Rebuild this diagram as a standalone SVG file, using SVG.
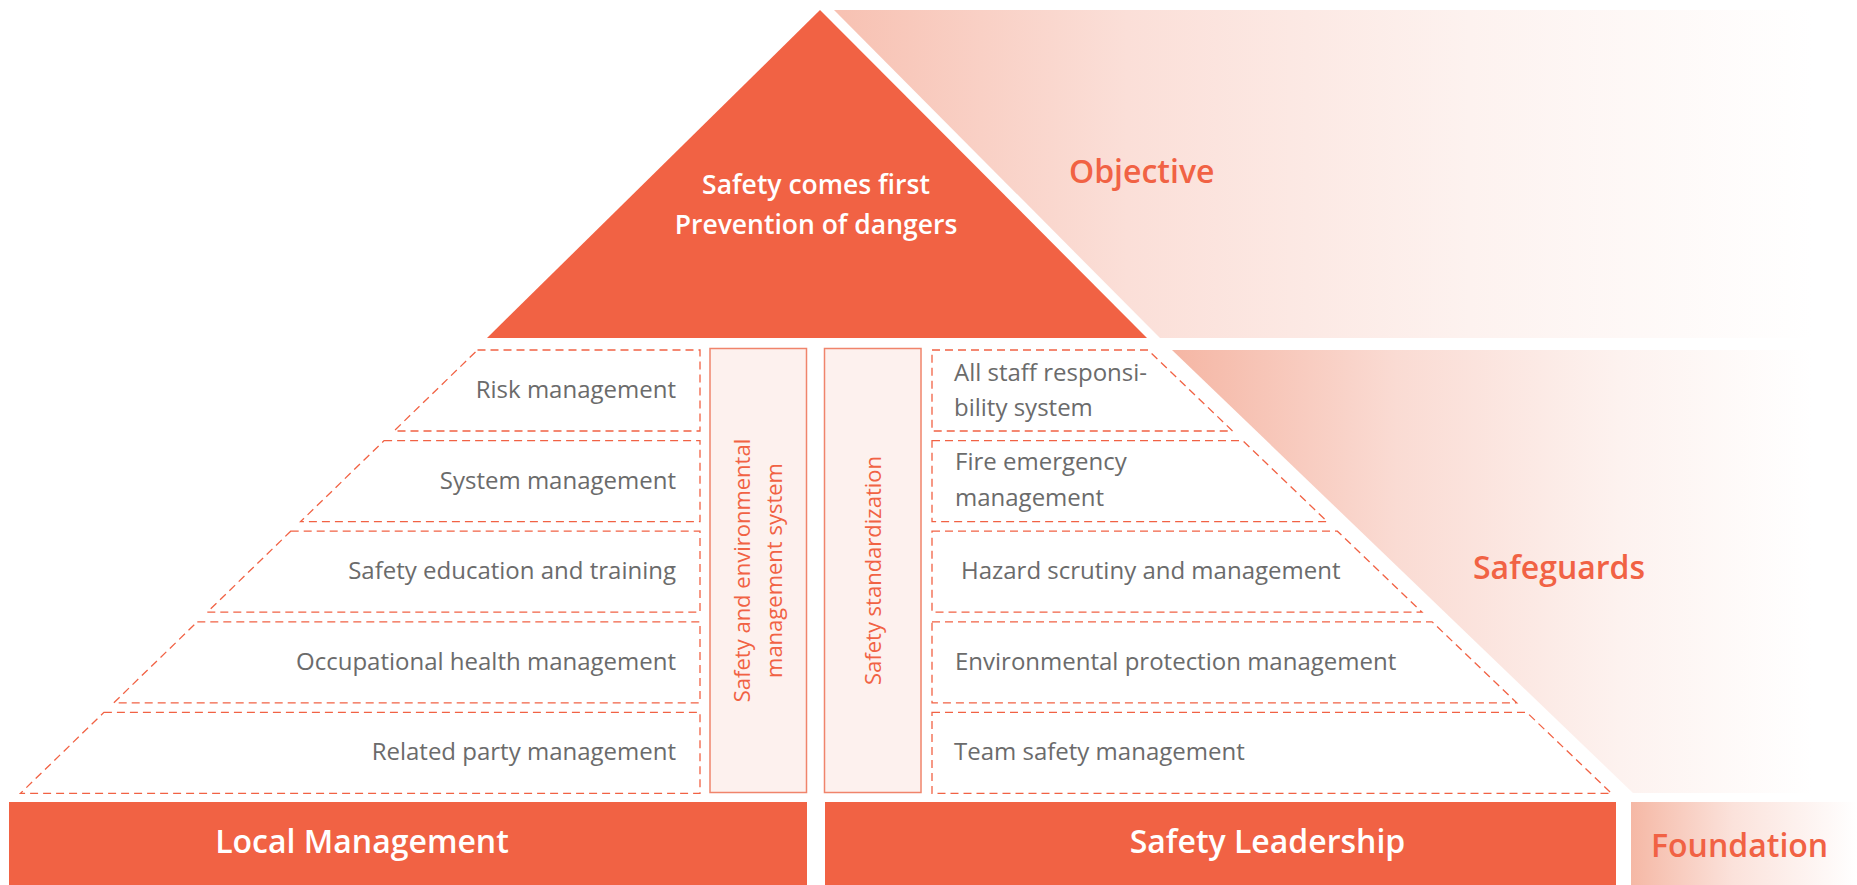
<svg xmlns="http://www.w3.org/2000/svg" width="1857" height="885" viewBox="0 0 1857 885">
<defs>
<linearGradient id="gObj" gradientUnits="userSpaceOnUse" x1="834" y1="0" x2="1812" y2="0">
<stop offset="0" stop-color="#f7c1b2"/>
<stop offset="0.3" stop-color="#fbdfd8"/>
<stop offset="0.65" stop-color="#fdf2ef"/>
<stop offset="1" stop-color="#ffffff"/>
</linearGradient>
<linearGradient id="gSafe" gradientUnits="userSpaceOnUse" x1="1172" y1="0" x2="1812" y2="0">
<stop offset="0" stop-color="#f5b6a4"/>
<stop offset="0.35" stop-color="#fadbd3"/>
<stop offset="0.7" stop-color="#fdf2ef"/>
<stop offset="1" stop-color="#ffffff"/>
</linearGradient>
<linearGradient id="gFound" gradientUnits="userSpaceOnUse" x1="1631" y1="0" x2="1857" y2="0">
<stop offset="0" stop-color="#f5b8a5"/>
<stop offset="0.45" stop-color="#fbe2db"/>
<stop offset="1" stop-color="#ffffff"/>
</linearGradient>
</defs>
<style>
.main{fill:#f16244}
.row{fill:#ffffff;stroke:#f16244;stroke-width:1.3;stroke-dasharray:8 5}
.pillar{fill:#fdf1ee;stroke:#f0846b;stroke-width:1.5}
.lbl{font-family:"Open Sans","Liberation Sans",sans-serif;font-size:24px;fill:#6b6b6b}
.ptxt{font-family:"Open Sans","Liberation Sans",sans-serif;font-size:22px;fill:#f16244}
.side{font-family:"Open Sans","Liberation Sans",sans-serif;font-size:32px;font-weight:600;fill:#f16244}
.white{font-family:"Open Sans","Liberation Sans",sans-serif;font-weight:600;fill:#ffffff}
</style>
<rect width="1857" height="885" fill="#ffffff"/>

<g id="objective-panel">
<polygon points="834,10 1812,10 1812,338 1160,338" fill="url(#gObj)"/>
<text class="side" x="1069" y="183">Objective</text>
</g>

<g id="safeguards-panel">
<polygon points="1172,350 1812,350 1812,793 1633,793" fill="url(#gSafe)"/>
<text class="side" x="1473" y="579">Safeguards</text>
</g>

<g id="foundation-panel">
<rect x="1631" y="802" width="226" height="83" fill="url(#gFound)"/>
<text class="side" x="1651" y="857">Foundation</text>
</g>

<g id="apex">
<polygon class="main" points="820,10 1147,338 487,338"/>
<text class="white" font-size="26.5" x="816" y="194" text-anchor="middle">Safety comes first</text>
<text class="white" font-size="26.5" x="816" y="234" text-anchor="middle">Prevention of dangers</text>
</g>

<g id="risk-management">
<polygon class="row" points="477.5,350 700,350 700,431 394,431"/>
<text class="lbl" x="676" y="398" text-anchor="end">Risk management</text>
</g>
<g id="system-management">
<polygon class="row" points="384.1,440.6 700,440.6 700,521.6 300.6,521.6"/>
<text class="lbl" x="676" y="488.5" text-anchor="end">System management</text>
</g>
<g id="safety-education">
<polygon class="row" points="290.7,531.2 700,531.2 700,612.2 207.2,612.2"/>
<text class="lbl" x="676" y="579" text-anchor="end">Safety education and training</text>
</g>
<g id="occupational-health">
<polygon class="row" points="197.3,621.8 700,621.8 700,702.8 113.8,702.8"/>
<text class="lbl" x="676" y="669.5" text-anchor="end">Occupational health management</text>
</g>
<g id="related-party">
<polygon class="row" points="103.9,712.4 700,712.4 700,793.4 20.4,793.4"/>
<text class="lbl" x="676" y="760" text-anchor="end">Related party management</text>
</g>

<g id="pillar-sems">
<rect class="pillar" x="710" y="348.5" width="96.5" height="444"/>
<text class="ptxt" transform="translate(741,570.5) rotate(-90)" text-anchor="middle" dominant-baseline="central">Safety and environmental</text>
<text class="ptxt" transform="translate(772.5,570.5) rotate(-90)" text-anchor="middle" dominant-baseline="central">management system</text>
</g>
<g id="pillar-standardization">
<rect class="pillar" x="824.5" y="348.5" width="96.5" height="444"/>
<text class="ptxt" transform="translate(871.5,570.5) rotate(-90)" text-anchor="middle" dominant-baseline="central">Safety standardization</text>
</g>

<g id="all-staff">
<polygon class="row" points="932,350 1148,350 1232.6,431 932,431"/>
<text class="lbl" x="954" y="380.5">All staff responsi-</text>
<text class="lbl" x="954" y="416">bility system</text>
</g>
<g id="fire-emergency">
<polygon class="row" points="932,440.6 1242.7,440.6 1327.3,521.6 932,521.6"/>
<text class="lbl" x="955" y="470">Fire emergency</text>
<text class="lbl" x="955" y="505.5">management</text>
</g>
<g id="hazard-scrutiny">
<polygon class="row" points="932,531.2 1337.4,531.2 1422,612.2 932,612.2"/>
<text class="lbl" x="961" y="579">Hazard scrutiny and management</text>
</g>
<g id="environmental-protection">
<polygon class="row" points="932,621.8 1432.1,621.8 1516.7,702.8 932,702.8"/>
<text class="lbl" x="955" y="669.5">Environmental protection management</text>
</g>
<g id="team-safety">
<polygon class="row" points="932,712.4 1526.8,712.4 1611.5,793.4 932,793.4"/>
<text class="lbl" x="954" y="760">Team safety management</text>
</g>

<g id="local-management">
<rect class="main" x="9" y="802" width="798" height="83"/>
<text class="white" font-size="32" x="362" y="853" text-anchor="middle">Local Management</text>
</g>
<g id="safety-leadership">
<rect class="main" x="825" y="802" width="791" height="83"/>
<text class="white" font-size="32" x="1267.5" y="853" text-anchor="middle">Safety Leadership</text>
</g>
</svg>
